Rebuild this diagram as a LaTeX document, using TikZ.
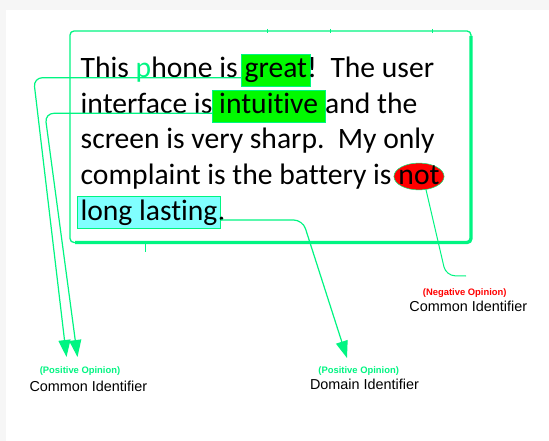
\documentclass[tikz,border=0pt]{standalone}
\usepackage{fontspec}
\setmainfont{Carlito}[Ligatures=NoCommon]
\newfontfamily\labelfont{Liberation Sans}
\usetikzlibrary{arrows.meta,positioning,shapes.geometric}
\definecolor{specgreen}{RGB}{0,245,130}
\definecolor{hlgreen}{RGB}{0,250,0}
\definecolor{hlcyan}{RGB}{128,255,255}
\definecolor{negred}{RGB}{255,0,0}
\definecolor{pagegray}{RGB}{246,246,246}

\begin{document}
\begin{tikzpicture}[x=1pt,y=-1pt,
  txt/.style={anchor=base west,inner sep=0pt,font=\fontsize{29.6}{35}\selectfont},
  hl/.style={txt,anchor=text,inner xsep=3pt,text height=23.5pt,text depth=8.5pt,draw=specgreen,line width=.4pt},
  neg/.style={txt,ellipse,anchor=text,fill=negred,draw=specgreen,line width=.5pt,inner xsep=-2.8pt,inner ysep=1.5pt,text height=16pt,text depth=0pt},
  tag/.style={inner sep=0pt,font=\labelfont\bfseries\fontsize{9.4}{11}\selectfont},
  ident/.style={inner sep=0pt,font=\labelfont\fontsize{14.4}{17}\selectfont},
  link/.style={specgreen,line width=1.2pt,rounded corners=9pt},
  arr/.style={link,-{Triangle[length=17pt,width=12pt]}}]
% page
\fill[pagegray] (0,0) rectangle (549,441);
\fill[white] (6.3,10.5) rectangle (549,441);
\useasboundingbox (0,0) rectangle (549,441);

% review box with heavier right/bottom edge
\draw[specgreen,line width=1.3pt,rounded corners=4pt] (70,31) rectangle (471,242.5);
\draw[specgreen,line width=3.3pt,rounded corners=4pt] (471,36) -- (471,242.5) -- (75,242.5);
\foreach \tx in {267.7,330.7,432} \draw[specgreen,line width=.8pt] (\tx,29) -- (\tx,33.5);
\draw[specgreen,line width=.8pt] (145.3,243) -- (145.3,251.5);

% review text, line by line
\node[txt] (l1a) at (80.5,77.7) {This {\color{specgreen}p}hone is\ \mbox{}};
\node[hl,fill=hlgreen] (great) at (l1a.base east) {great};
\node[txt] (l1b) at ([xshift=-3pt]great.base east) {!\ \ The user};
\node[txt] (l2a) at (80.5,113.3) {interface is};
\node[hl,fill=hlgreen,inner xsep=.5pt] (intu) at (l2a.base east) {\ intuitive\ \mbox{}};
\node[txt] (l2b) at ([xshift=-.5pt]intu.base east) {and the};
\node[txt] (l3) at (80.5,148.9) {screen is very sharp.\ \ My only};
\node[txt] (l4) at (80.5,184.5) {complaint is the battery is\ \mbox{}};
\node[neg] (nt) at (l4.base east) {not};
\node[hl,fill=hlcyan] (ll) at (80.5,220) {long lasting};
\node[txt] (l5) at ([xshift=-3pt]ll.base east) {.};

% opinion labels
\node[ident] (cidL) at (88.4,386.7) {Common Identifier};
\node[tag,text=specgreen] (posL) at (80,370.7) {(Positive Opinion)};
\node[ident] (didM) at (364.5,384.3) {Domain Identifier};
\node[tag,text=specgreen] (posM) at (358.7,371) {(Positive Opinion)};
\node[ident] (cidR) at (468.3,306) {Common Identifier};
\node[tag,text=negred] (negR) at (464.7,292.7) {(Negative Opinion)};

% connectors
\coordinate (tipA) at (66.5,357);
\coordinate (tipB) at (77.5,357);
\coordinate (tipC) at (347,358);
\coordinate (negend) at (466,276);
\draw[arr] (great.base west) -- ++(-208,0) -- (tipA);
\draw[arr] (intu.base west) -- ++(-167,0) -- (tipB);
\draw[arr] (ll.base east) -- ++(82,0) -- (tipC);
\draw[link,line width=1pt] (nt.-62) -- ++(20,86) -- (negend);
\end{tikzpicture}
\end{document}
